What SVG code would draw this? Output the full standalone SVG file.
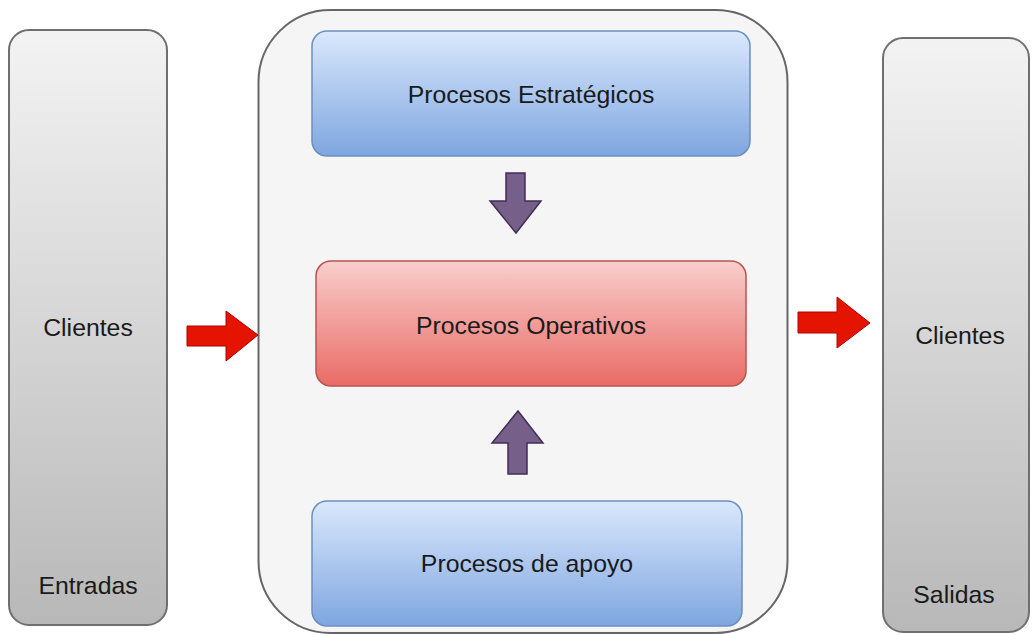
<svg xmlns="http://www.w3.org/2000/svg" width="1032" height="635" viewBox="0 0 1032 635">
  <style>
    .lbl { font-family: "Liberation Sans", Arial, sans-serif; font-size: 24.8px; fill: #1a1a1a; text-anchor: middle; }
    .side { fill: url(#gGrey); stroke: #6f6f6f; stroke-width: 2; }
    .blue { fill: url(#gBlue); stroke: #6c8ebf; stroke-width: 1.5; }
    .red { fill: url(#gRed); stroke: #b85450; stroke-width: 1.5; }
    .purple { fill: #76608a; stroke: #432d57; stroke-width: 1.5; stroke-linejoin: miter; }
    .flow { fill: #e51400; stroke: #b20000; stroke-width: 1; }
  </style>
  <defs>
    <linearGradient id="gGrey" x1="0" y1="0" x2="0" y2="1">
      <stop offset="0" stop-color="#f3f3f3"/>
      <stop offset="1" stop-color="#b8b8b8"/>
    </linearGradient>
    <linearGradient id="gBlue" x1="0" y1="0" x2="0" y2="1">
      <stop offset="0" stop-color="#dae8fc"/>
      <stop offset="1" stop-color="#7ea6e0"/>
    </linearGradient>
    <linearGradient id="gRed" x1="0" y1="0" x2="0" y2="1">
      <stop offset="0" stop-color="#f8cecc"/>
      <stop offset="1" stop-color="#ea6b66"/>
    </linearGradient>
  </defs>

  <rect width="1032" height="635" fill="#ffffff"/>

  <!-- input column -->
  <g id="entradas">
    <rect class="side" x="9" y="30" width="158" height="595" rx="20" ry="20"/>
    <text class="lbl" x="88" y="336">Clientes</text>
    <text class="lbl" x="88" y="594">Entradas</text>
  </g>

  <!-- process container -->
  <g id="procesos">
    <rect x="258.5" y="10" width="529" height="623" rx="72" ry="72" fill="#f5f5f5" stroke="#666666" stroke-width="2"/>
  </g>

  <g id="estrategicos">
    <rect class="blue" x="312" y="31" width="438" height="125" rx="15" ry="15"/>
    <text class="lbl" x="531" y="103">Procesos Estratégicos</text>
  </g>

  <g id="operativos">
    <rect class="red" x="316" y="261" width="430" height="125" rx="15" ry="15"/>
    <text class="lbl" x="531" y="334">Procesos Operativos</text>
  </g>

  <g id="apoyo">
    <rect class="blue" x="312" y="501" width="430" height="125" rx="15" ry="15"/>
    <text class="lbl" x="527" y="572">Procesos de apoyo</text>
  </g>

  <!-- output column -->
  <g id="salidas">
    <rect class="side" x="883" y="38" width="146" height="594" rx="20" ry="20"/>
    <text class="lbl" x="960" y="344">Clientes</text>
    <text class="lbl" x="954" y="603">Salidas</text>
  </g>

  <!-- connectors -->
  <g id="connectors">
    <!-- inputs into processes -->
    <polygon class="flow" points="187,326 226,326 226,311 258,335 226,361 226,346 187,346"/>
    <!-- processes to outputs -->
    <polygon class="flow" points="798,312 837,312 837,297 870,323 837,348 837,333 798,333"/>
    <!-- strategic down to operative -->
    <polygon class="purple" points="506,173 525,173 525,201 541,201 516,233 490,201 506,201"/>
    <!-- support up to operative -->
    <polygon class="purple" points="508,474 527,474 527,443 543,443 518,411 492,443 508,443"/>
  </g>
</svg>
